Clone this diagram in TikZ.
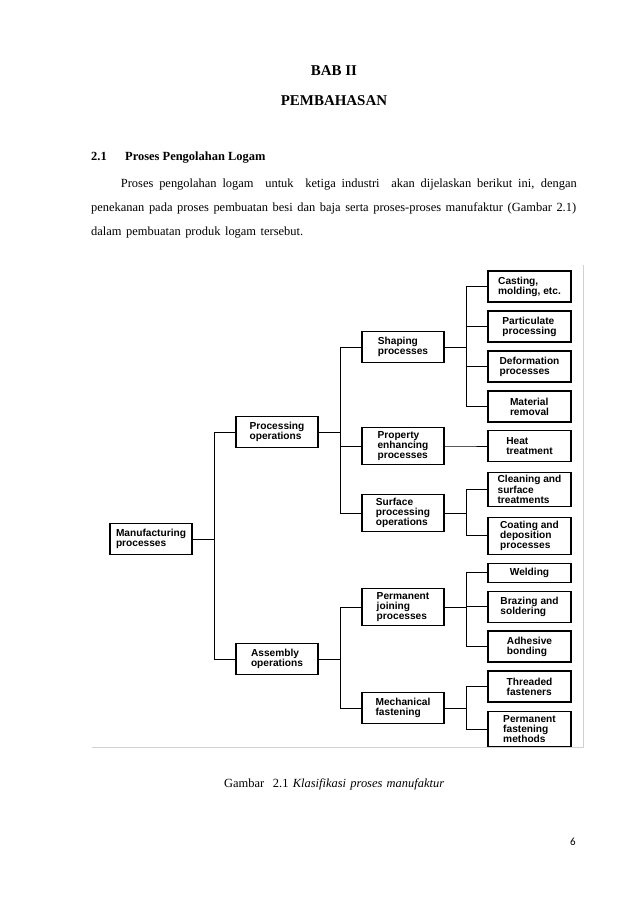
\documentclass[tikz,border=0pt]{standalone}
\usepackage{fontspec}
\setmainfont{Liberation Serif}
\newfontfamily\boxfont{Liberation Sans}
\newfontfamily\pagefont{Carlito}
\usetikzlibrary{positioning}

\begin{document}
\begin{tikzpicture}[x=1bp,y=-1bp,
    procbox/.style={draw,line width=1.2pt,minimum width=82bp,minimum height=31bp,
        inner xsep=3bp,inner ysep=3.5bp,align=left,
        font=\boxfont\bfseries\fontsize{10.2}{10.2}\selectfont},
    leafbox/.style={procbox,minimum width=83bp},
    link/.style={line width=0.85pt},
    bodytext/.style={anchor=base west,inner sep=0pt,font=\fontsize{12.5}{15}\selectfont}]
    \useasboundingbox (0,0) rectangle (638,903);

    % heading
    \node[anchor=base,font=\bfseries\fontsize{15}{18}\selectfont] (bab) at (334,75) {BAB II};
    \node[anchor=base,font=\bfseries\fontsize{15}{18}\selectfont] (judul) at (334,105) {PEMBAHASAN};
    \node[bodytext,font=\bfseries\fontsize{12.5}{15}\selectfont] (nomor) at (91,160) {2.1};
    \node[bodytext,font=\bfseries\fontsize{12.5}{15}\selectfont] (subjudul) at (125,160) {Proses Pengolahan Logam};

    \node[bodytext] (baris1) at (120.7,187) {\hbox to 456bp{Proses pengolahan logam \ untuk \ ketiga industri \ akan dijelaskan berikut ini, dengan}};
    \node[bodytext] (baris2) at (91,211) {\hbox to 485bp{penekanan pada proses pembuatan besi dan baja serta proses-proses manufaktur (Gambar 2.1)}};
    \node[bodytext] (baris3) at (91,235) {\hbox to 212bp{dalam pembuatan produk logam tersebut.}};

    % frame of the scanned figure
    \draw[gray!35,line width=0.6pt] (92,747) -- (583,747) -- (583,265);

    % tree
    \node[procbox] (mfg) at (151,539) {Manufacturing\\processes};
    \node[procbox] (proc) at (277,432) {Processing\\operations};
    \node[procbox] (asm) at (277,659) {Assembly\\operations};

    \node[procbox] (shape) at (403,347) {Shaping\\processes};
    \node[procbox] (prop) at (403,446) {Property\\enhancing\\processes};
    \node[procbox] (surf) at (403,513) {Surface\\processing\\operations};
    \node[procbox] (join) at (403,607) {Permanent\\joining\\processes};
    \node[procbox] (mech) at (403,708) {Mechanical\\fastening};

    \node[leafbox] (cast) at (529.5,286.5) {Casting,\\molding, etc.};
    \node[leafbox] (part) at (529.5,326.5) {Particulate\\processing};
    \node[leafbox] (deform) at (529.5,366.5) {Deformation\\processes};
    \node[leafbox] (remov) at (529.5,406.5) {Material\\removal};
    \node[leafbox] (heat) at (529.5,446) {Heat\\treatment};
    \node[leafbox] (clean) at (529.5,489.5) {Cleaning and\\surface\\treatments};
    \node[leafbox] (coat) at (529.5,535.7) {Coating and\\deposition\\processes};
    \node[leafbox,minimum height=19bp] (weld) at (529.5,572.7) {Welding};
    \node[leafbox] (braze) at (529.5,606.7) {Brazing and\\soldering};
    \node[leafbox] (adhes) at (529.5,646.5) {Adhesive\\bonding};
    \node[leafbox] (thread) at (529.5,686.5) {Threaded\\fasteners};
    \node[leafbox] (permf) at (529.5,729) {Permanent\\fastening\\methods};

    \foreach \from/\to in {mfg/proc,mfg/asm,
        proc/shape,proc/prop,proc/surf,asm/join,asm/mech,
        shape/cast,shape/part,shape/deform,shape/remov,prop/heat,
        surf/clean,surf/coat,join/weld,join/braze,join/adhes,
        mech/thread,mech/permf}
        \draw[link] (\from.east) -- ++(22,0) |- (\to.west);

    % caption
    \node[bodytext] (caption) at (224,787) {\hbox to 220bp{Gambar \ 2.1 \textit{Klasifikasi proses manufaktur}}};
    \node[anchor=base,inner sep=0pt,font=\pagefont\fontsize{11}{13}\selectfont] (halaman) at (573,845) {6};
\end{tikzpicture}
\end{document}
